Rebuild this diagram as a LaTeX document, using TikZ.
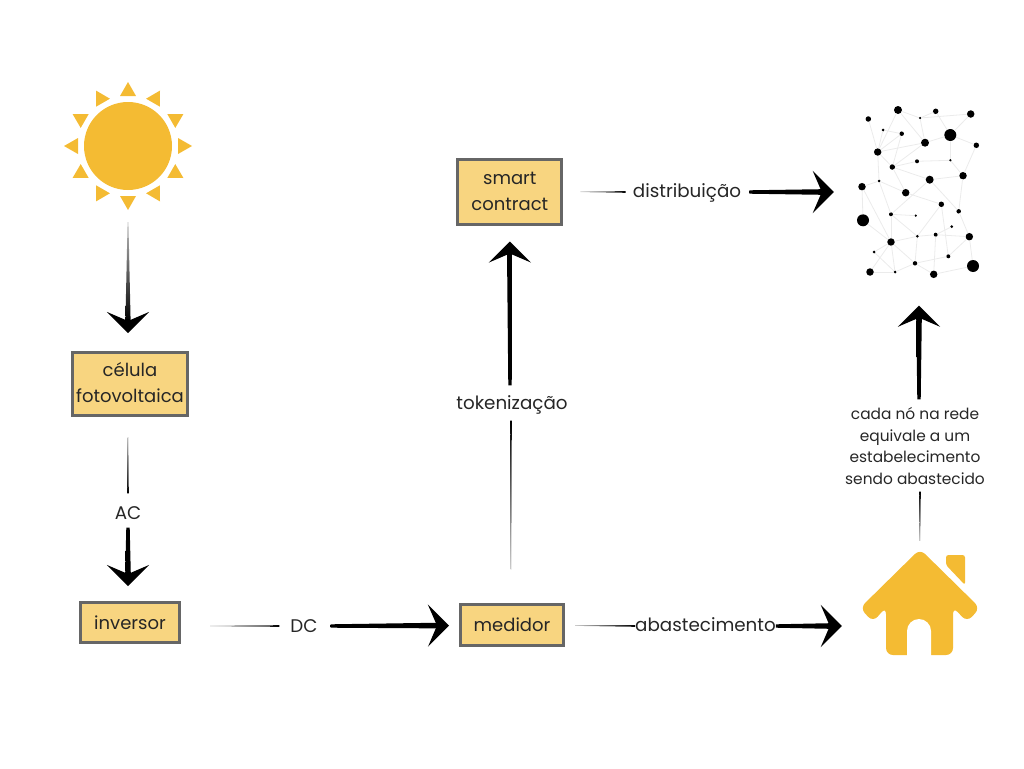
\documentclass[tikz,border=0pt]{standalone}
\usepackage{fontspec}
\setmainfont{Poppins}
\usepackage{xcolor}
\usetikzlibrary{arrows.meta,positioning,calc}
\definecolor{solgold}{HTML}{F4BB33}
\definecolor{boxgold}{HTML}{F8D580}
\tikzset{
  flowbox/.style={draw=black!60, line width=3pt, fill=boxgold, align=center, inner sep=0pt, font=\fontsize{18}{26}\selectfont, text=black!85},
  flowlabel/.style={align=center, inner sep=0pt, font=\fontsize{18.3}{22}\selectfont, text=black!85},
  flowtip/.style={-{Stealth[length=21pt,width=42pt,inset=9pt]}, line width=4pt, black},
  netdot/.style={circle, fill=black, inner sep=0pt, outer sep=0pt},
  netedge/.style={draw=black!8, line width=0.8pt},
  solidline/.style={left color=black, right color=black},
  fadeeast/.style={left color=black!20, right color=black},
  fadenorth/.style={bottom color=black!20, top color=black},
  fadesouth/.style={top color=black!25, bottom color=black}
}
% tapered line: style, from, to, half width at start, half width at end
\newcommand{\flowline}[5]{
  \coordinate (la) at #2; \coordinate (lb) at #3;
  \shade[#1] let \p1=($(lb)-(la)$), \n1={atan2(\y1,\x1)} in
    ($(la)+(\n1+90:#4)$) -- ($(lb)+(\n1+90:#5)$) -- ($(lb)+(\n1-90:#5)$) -- ($(la)+(\n1-90:#4)$) -- cycle;
}
% same, ending in an arrow head
\newcommand{\flowarrow}[5]{
  \coordinate (tb) at #3;
  \coordinate (ta) at #2;
  \flowline{#1}{(ta)}{($(tb)!12pt!(ta)$)}{#4}{#5}
  \draw[flowtip] ($(tb)!14pt!(ta)$) -- (tb);
}

\begin{document}
\begin{tikzpicture}[x=1pt,y=-1pt]
\useasboundingbox (0,0) rectangle (1024,768);

% boxes
\node[flowbox,minimum width=115pt,minimum height=63pt] (cel) at (130,384) {\raisebox{4pt}{célula}\\\raisebox{4pt}{fotovoltaica}};
\node[flowbox,minimum width=99pt,minimum height=40pt,below=184pt of cel] (inv) {inversor};
\node[flowbox,minimum width=103pt,minimum height=41pt,right=278pt of inv,yshift=-2pt] (med) {medidor};
\node[flowbox,minimum width=104pt,minimum height=64.5pt,above=377pt of med,xshift=-2.2pt] (contract) {\raisebox{-2pt}{smart}\\\raisebox{-2pt}{contract}};

% sun
\node[circle,fill=solgold,inner sep=0pt,minimum size=88pt] (sun) at (128,146) {};
\foreach \a in {0,30,...,330}{
  \fill[solgold,shift={(sun.center)},rotate=\a] (50,-8) -- (64,0) -- (50,8) -- cycle;
}

% house
\fill[solgold,rounded corners=7pt] (920,549) -- (980,608) -- (967,622) -- (953,607) -- (953,655) -- (886,655) -- (886,607) -- (873,622) -- (860,608) -- cycle;
\fill[solgold,rounded corners=2.5pt] (946,555) -- (965,555) -- (965,585) -- (946,565) -- cycle;
\fill[white] (907,656) -- (907,631) arc[start angle=180,end angle=360,radius=12] -- (931,656) -- cycle;
\node[inner sep=0pt,minimum width=120pt,minimum height=104pt] (casa) at (920,603) {};

% network
\begin{scope}[shift={(840,90)}]
\foreach \n/\x/\y/\r in {1/58/20/8,2/28.3/29/5.5,3/43/40/3,4/61.7/43.7/4.5,5/80/28/2.5,6/95.7/21.3/5.5,7/130.7/24/7.5,8/110.3/45/12,
  9/136.3/55.3/5.5,10/85/52.7/8,11/37.7/62/7.5,12/52.3/77/5.5,13/77/71.3/4,14/110.3/70.3/2.5,15/123/85.7/7.5,16/89.7/89.7/8,
  17/39/91/3,18/22/96.7/7.5,19/65.7/102.7/7.5,20/101.3/114.3/5.5,21/118.7/121.3/4.5,22/23/130.3/12,23/51/124.3/4,24/75.7/125.7/2.5,
  25/111.7/136.7/3,26/77.3/146.3/3,27/95.7/144.7/4,28/129.3/146.7/7.5,29/51/152/7.5,30/34/162/3,31/108.3/166.3/4,32/75/173.3/4.5,
  33/133/176/12,34/30/182/7.5,35/55/182/3,36/93.7/184.3/7.5}{
  \node[netdot,minimum size=\r pt] (n\n) at (\x,\y) {};
}
\foreach \u/\v in {1/5,5/7,6/8,7/8,5/10,1/10,1/11,2/11,3/4,3/11,4/12,11/10,10/8,8/9,8/14,9/15,10/12,12/13,13/14,14/15,
  11/12,11/17,12/16,12/19,16/15,16/21,16/23,17/18,17/19,17/23,18/22,18/29,19/20,20/26,20/31,21/28,23/24,23/29,23/26,22/29,
  26/27,27/25,27/28,26/29,26/32,27/36,28/31,28/33,29/30,29/34,29/35,29/32,30/35,34/35,32/35,32/36,32/31,36/33,15/21,5/6,4/11}{
  \draw[netedge] (n\u) -- (n\v);
}
\end{scope}
\node[inner sep=0pt,minimum width=120pt,minimum height=175pt] (rede) at (918,192) {};

% labels
\node[flowlabel] (ac) at (128,513) {AC};
\node[flowlabel] (dc) at (304,626) {DC};
\node[flowlabel] (abast) at (705.5,625) {abastecimento};
\node[flowlabel] (token) at (512,405) {tokenização};
\node[flowlabel] (distr) at (687,193) {distribuição};
\node[flowlabel,font=\fontsize{15.4}{21.5}\selectfont] (cada) at (915,446) {cada nó na rede\\equivale a um\\estabelecimento\\sendo abastecido};

% connectors
\flowarrow{fadesouth}{($(sun.south)+(0,32)$)}{($(cel.north)+(-2,-18)$)}{0.4pt}{2.6pt}
\flowline{fadesouth}{($(cel.south)+(-2,20)$)}{($(ac.north)+(0,-13)$)}{0.35pt}{0.8pt}
\flowarrow{solidline}{($(ac.south)+(0,8)$)}{($(inv.north)+(-2,-15)$)}{1.7pt}{2.8pt}
\flowline{fadeeast}{($(inv.east)+(29,3.5)$)}{($(dc.west)+(-11,0)$)}{0.35pt}{0.8pt}
\flowarrow{solidline}{($(dc.east)+(13,0)$)}{($(med.west)+(-10,1)$)}{1.7pt}{2.8pt}
\flowline{fadeeast}{($(med.east)+(10,1)$)}{(abast.west|-0,626)}{0.35pt}{0.8pt}
\flowarrow{solidline}{(abast.east|-0,626)}{($(casa.west)+(-18,23)$)}{1.7pt}{2.8pt}
\flowline{fadenorth}{($(med.north)+(-1,-33)$)}{($(token.south)+(-1,6)$)}{0.35pt}{0.8pt}
\flowarrow{solidline}{($(token.north)+(-2,-10)$)}{($(contract.south)+(0,16)$)}{1.7pt}{2.8pt}
\flowline{fadeeast}{($(contract.east)+(17,0)$)}{($(distr.west)+(-7,-1)$)}{0.35pt}{0.8pt}
\flowarrow{solidline}{($(distr.east)+(8,-1)$)}{($(rede.west)+(-24,0)$)}{1.7pt}{2.8pt}
\flowline{fadenorth}{($(casa.north)+(0,-10)$)}{($(cada.south)+(5,7)$)}{0.35pt}{0.8pt}
\flowarrow{solidline}{($(cada.north)+(4,-8)$)}{($(rede.south)+(1,26)$)}{1.7pt}{2.8pt}
\end{tikzpicture}
\end{document}
